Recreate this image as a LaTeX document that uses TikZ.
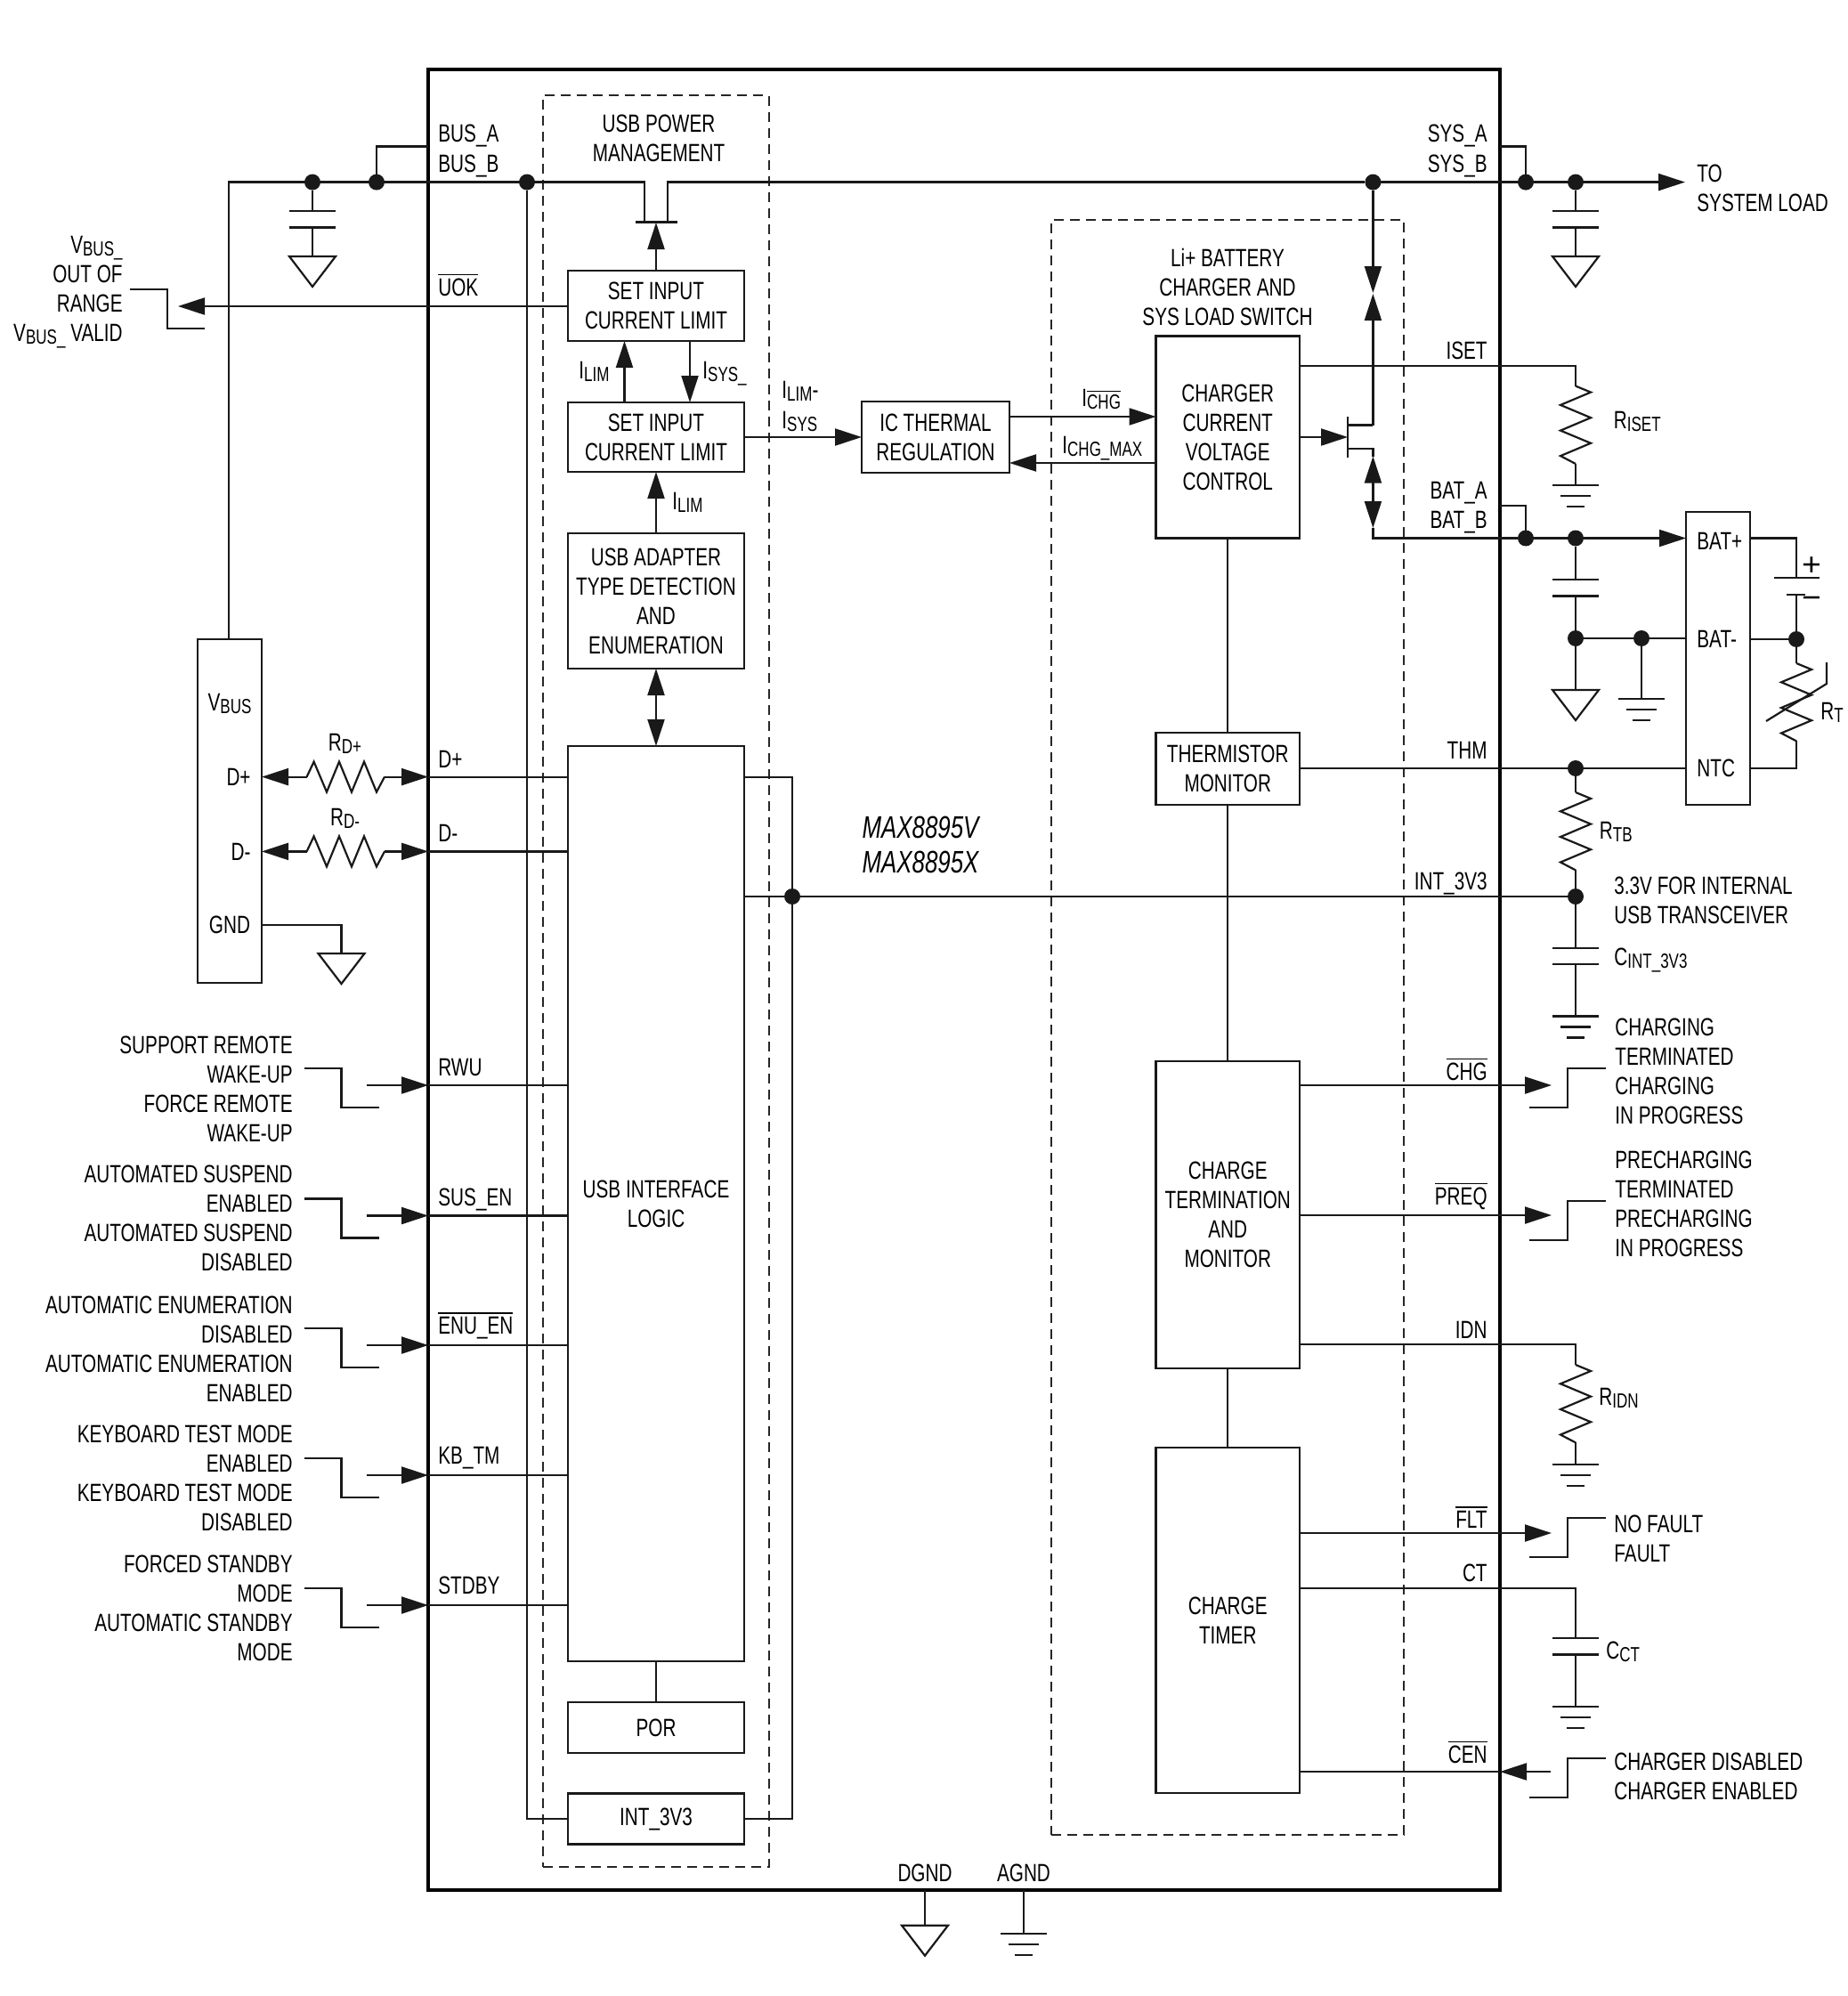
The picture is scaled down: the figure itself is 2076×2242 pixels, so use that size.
\documentclass[tikz,border=0pt]{standalone}
\usepackage{fontspec}
\setmainfont[FakeStretch=0.74]{Liberation Sans}
\usetikzlibrary{arrows.meta}
\newcommand\sbs[1]{\raisebox{-1.6pt}{\fontsize{11.5}{12}\selectfont #1}}
\newcommand\ovl[1]{\leavevmode\vbox{\hrule height .6pt \kern 1.6pt \hbox{#1}}}
\tikzset{
  wire/.style={line width=1.1pt,draw=black!90,line join=miter},
  arr/.style={wire,-{Triangle[length=15pt,width=9.5pt]}},
  boxn/.style={draw=black!90,line width=1.2pt,inner sep=0pt,outer sep=0pt,align=center,font=\fontsize{14}{16.5}\selectfont},
  dashbox/.style={draw=black!85,line width=1pt,dash pattern=on 5.5pt off 3.5pt,inner sep=0pt,outer sep=0pt},
  dot/.style={circle,fill=black!90,inner sep=0pt,outer sep=0pt,minimum size=9pt},
  lblL/.style={anchor=base west,inner sep=0pt,font=\fontsize{14}{16.5}\selectfont},
  lblR/.style={anchor=base east,inner sep=0pt,font=\fontsize{14}{16.5}\selectfont},
  lblC/.style={anchor=base,inner sep=0pt,font=\fontsize{14}{16.5}\selectfont},
  multiR/.style={anchor=east,align=right,inner sep=0pt,font=\fontsize{14}{16.5}\selectfont},
  multiL/.style={anchor=west,align=left,inner sep=0pt,font=\fontsize{14}{16.5}\selectfont},
  multiC/.style={anchor=center,align=center,inner sep=0pt,font=\fontsize{14}{16.5}\selectfont},
  signn/.style={anchor=center,inner sep=0pt,font=\fontsize{18}{18}\selectfont},
  gndtri/.pic={\draw[wire] (-26,0)--(26,0)--(0,34)--cycle;},
  gndbars/.pic={\draw[wire] (-26,0)--(26,0) (-17,12)--(17,12) (-10,24)--(10,24);},
  capv/.pic={\draw[wire] (-26,0)--(26,0) (-26,18.5)--(26,18.5);},
  resv/.pic={\draw[wire] (0,0)--(17,7)--(-17,21.3)--(17,35.6)--(-17,50)--(17,64.2)--(-17,78.5)--(0,87.4);},
  resh/.pic={\draw[wire] (0,0)--(8,-17)--(22.4,17)--(36.4,-17)--(50.4,17)--(64.4,-17)--(78.4,17)--(87.4,0);},
  stepin/.pic={\draw[wire] (-42,-19)--(0,-19)--(0,25)--(42,25);},
  stepout/.pic={\draw[wire] (43,-19)--(0,-19)--(0,25)--(-43,25);}
}
\begin{document}
\begin{tikzpicture}[x=0.5pt,y=-0.5pt]
\useasboundingbox (0,0) rectangle (2076,2242);
% frames
\node[draw=black,line width=2.4pt,inner sep=0pt,outer sep=0pt,minimum width=602pt,minimum height=1022.5pt] (chip) at (1083,1100.5) {};
\node[dashbox,minimum width=127pt,minimum height=994.6pt] (usbpm) at (737,1102) {};
\node[dashbox,minimum width=198pt,minimum height=906.85pt] (chgsec) at (1379,1153.85) {};
% blocks
\node[boxn,minimum width=99pt,minimum height=39.5pt] (sil1) at (737,343.5) {SET INPUT\\CURRENT LIMIT};
\node[boxn,minimum width=99pt,minimum height=39pt] (sil2) at (737,491) {SET INPUT\\CURRENT LIMIT};
\node[boxn,minimum width=99pt,minimum height=76pt] (adapter) at (737,675) {USB ADAPTER\\TYPE DETECTION\\AND\\ENUMERATION};
\node[boxn,minimum width=99pt,minimum height=514pt] (logic) at (737,1352) {USB INTERFACE\\LOGIC};
\node[boxn,minimum width=99pt,minimum height=28.5pt] (por) at (737,1940.5) {POR};
\node[boxn,minimum width=99pt,minimum height=28.5pt] (int) at (737,2043) {INT\_3V3};
\node[boxn,minimum width=83pt,minimum height=39.75pt] (therm) at (1051,491) {IC THERMAL\\REGULATION};
\node[boxn,minimum width=80.75pt,minimum height=113.5pt] (ctrl) at (1379.25,491) {CHARGER\\CURRENT\\VOLTAGE\\CONTROL};
\node[boxn,minimum width=80.75pt,minimum height=40.5pt] (thmon) at (1379.25,863.5) {THERMISTOR\\MONITOR};
\node[boxn,minimum width=80.75pt,minimum height=172.5pt] (term) at (1379.25,1364.5) {CHARGE\\TERMINATION\\AND\\MONITOR};
\node[boxn,minimum width=80.75pt,minimum height=194pt] (timer) at (1379.25,1820) {CHARGE\\TIMER};
\node[boxn,minimum width=36pt,minimum height=193pt] (usbcon) at (258,911) {};
\node[boxn,minimum width=36pt,minimum height=164.5pt] (batpack) at (1930,739.5) {};
% dots
\node[dot] (d1) at (351,204.6) {};
\node[dot] (d2) at (423,204.6) {};
\node[dot] (d3) at (592,204.6) {};
\node[dot] (d4) at (1542.4,204.6) {};
\node[dot] (d5) at (1714,204.6) {};
\node[dot] (d6) at (1770,204.6) {};
\node[dot] (d7) at (1714,604.5) {};
\node[dot] (d8) at (1770,604.5) {};
\node[dot] (d9) at (1770,717) {};
\node[dot] (d10) at (1844,717) {};
\node[dot] (d11) at (2018,718) {};
\node[dot] (d12) at (1770,863) {};
\node[dot] (d13) at (1770,1007) {};
\node[dot] (d14) at (890,1007) {};
% coordinates
\coordinate (sysout) at (1893,204.6);
\coordinate (batout) at (batpack.west |- d8);
\coordinate (g1) at (737,250);
% power bus
\draw[wire] (usbcon.north -| 257,0) -- (257,204.6) -- (724,204.6) -- (724,250);
\draw[wire] (750,250) -- (750,204.6) -- (d4);
\draw[arr] (d4) -- (sysout);
\draw[wire,line width=1.5pt] (714,250) -- (761,250);
\draw[arr] (sil1.north) -- (g1);
\draw[wire] (d2) -- (423,164.6) -- (chip.west |- 0,164.6);
\draw[wire] (d5) -- (1714,164.6) -- (chip.east |- 0,164.6);
\draw[wire] (d3) -- (592,2043) -- (int.west);
\draw[wire] (int.east) -- (890,2043) -- (890,872.6) -- (logic.east |- 0,872.6);
\draw[wire] (logic.east |- d14) -- (d14) -- (d13);
% caps and grounds on the bus
\draw[wire] (d1) -- (351,237) (351,255.5) -- (351,288);
\pic at (351,237) {capv};
\pic at (351,288) {gndtri};
\draw[wire] (d6) -- (1770,237) (1770,255.5) -- (1770,288);
\pic at (1770,237) {capv};
\pic at (1770,288) {gndtri};
% UOK
\draw[arr] (sil1.west |- 0,344) -- (200,344);
\pic at (188,344) {stepin};
% internal power arrows
\draw[arr] (sil2.north -| 701.5,0) -- (sil1.south -| 701.5,0);
\draw[arr] (sil1.south -| 775,0) -- (sil2.north -| 775,0);
\draw[arr] (adapter.north) -- (sil2.south);
\draw[arr] (sil2.east) -- (therm.west);
\draw[wire,{Triangle[length=15pt,width=9.5pt]}-{Triangle[length=15pt,width=9.5pt]}] (adapter.south) -- (logic.north);
\draw[wire] (logic.south) -- (por.north);
% thermal / charger
\draw[arr] (therm.east |- 0,468) -- (ctrl.west |- 0,468);
\draw[arr] (ctrl.west |- 0,520) -- (therm.east |- 0,520);
\draw[arr] (ctrl.east) -- (1514,491);
\draw[wire,line width=1.4pt] (1514,468) -- (1514,514);
\draw[arr] (d4) -- (1542.4,329);
\draw[arr] (1542.4,477.5) -- (1542.4,330);
\draw[wire] (1514,477.5) -- (1542.4,477.5);
\draw[wire] (1514,504) -- (1542.4,504) -- (1542.4,513);
\draw[arr] (1542.4,553) -- (1542.4,512.5);
\draw[arr] (1542.4,553) -- (1542.4,593);
\draw[wire] (1542.4,593) -- (1542.4,604.5) -- (d7);
\draw[arr] (d7) -- (batout);
\draw[wire] (d7) -- (1714,568) -- (chip.east |- 0,568);
% central spine
\draw[wire] (ctrl.south) -- (thmon.north);
\draw[wire] (thmon.south) -- (term.north);
\draw[wire] (term.south) -- (timer.north);
% ISET
\draw[wire] (ctrl.east |- 0,411) -- (1770,411) -- (1770,433.6);
\pic at (1770,433.6) {resv};
\draw[wire] (1770,521) -- (1770,545);
\pic at (1770,545) {gndbars};
% battery side
\draw[wire] (d8) -- (1770,651) (1770,669.5) -- (d9) -- (1770,775);
\pic at (1770,651) {capv};
\pic at (1770,775) {gndtri};
\draw[wire] (d9) -- (batpack.west |- d9);
\draw[wire] (d10) -- (1844,785);
\pic at (1844,785) {gndbars};
\draw[wire] (batpack.east |- d8) -- (2018,604.5) -- (2018,649);
\draw[wire] (1993,649) -- (2044,649) (2007,668) -- (2028,668);
\draw[wire] (2018,668) -- (d11) -- (2018,745);
\draw[wire] (batpack.east |- d11) -- (d11);
\pic at (2018,745) {resv};
\draw[wire] (2018,832.4) -- (2018,863) -- (batpack.east |- d12);
\draw[wire] (1984,810) -- (2052,768) -- (2052,744);
% THM
\draw[wire] (thmon.east |- d12) -- (batpack.west |- d12);
\draw[wire] (d12) -- (1770,890);
\pic at (1770,890) {resv};
\draw[wire] (1770,977.4) -- (d13);
% INT_3V3 cap
\draw[wire] (d13) -- (1770,1064.6) (1770,1083) -- (1770,1141.4);
\pic at (1770,1064.6) {capv};
\pic at (1770,1141.4) {gndbars};
% status outputs
\draw[arr] (term.east |- 0,1219) -- (1743,1219);
\pic at (1761,1219) {stepout};
\draw[arr] (term.east |- 0,1365) -- (1743,1365);
\pic at (1761,1368) {stepout};
\draw[wire] (term.east |- 0,1510) -- (1770,1510) -- (1770,1533);
\pic at (1770,1533) {resv};
\draw[wire] (1770,1620.4) -- (1770,1645);
\pic at (1770,1645) {gndbars};
\draw[arr] (timer.east |- 0,1722) -- (1743,1722);
\pic at (1761,1724) {stepout};
\draw[wire] (timer.east |- 0,1784) -- (1770,1784) -- (1770,1840) (1770,1858.5) -- (1770,1917);
\pic at (1770,1840) {capv};
\pic at (1770,1917) {gndbars};
\draw[wire] (timer.east |- 0,1990) -- (chip.east |- 0,1990);
\draw[arr] (1742,1990) -- (chip.east |- 0,1990);
\pic at (1761,1994) {stepout};
% USB lines
\draw[wire,arrows={Triangle[length=15pt,width=9.5pt]-}] (usbcon.east |- 0,872.6) -- (344.6,872.6);
\pic at (344.6,872.6) {resh};
\draw[arr] (432,872.6) -- (chip.west |- 0,872.6);
\draw[wire] (chip.west |- 0,872.6) -- (logic.west |- 0,872.6);
\draw[wire,arrows={Triangle[length=15pt,width=9.5pt]-}] (usbcon.east |- 0,956.4) -- (344.6,956.4);
\pic at (344.6,956.4) {resh};
\draw[arr] (432,956.4) -- (chip.west |- 0,956.4);
\draw[wire] (chip.west |- 0,956.4) -- (logic.west |- 0,956.4);
\draw[wire] (usbcon.east |- 0,1038.7) -- (383.5,1038.7) -- (383.5,1071);
\pic at (383.5,1071) {gndtri};
% control inputs
\foreach \yy in {1219,1365.5,1511,1657,1803}{
  \draw[arr] (411.6,\yy) -- (chip.west |- 0,\yy);
  \draw[wire] (chip.west |- 0,\yy) -- (logic.west |- 0,\yy);
  \pic at (383.5,\yy) {stepin};
}
% ground pins
\draw[wire] (chip.south -| 1039,0) -- (1039,2162.7);
\pic at (1039,2162.7) {gndtri};
\draw[wire] (chip.south -| 1150,0) -- (1150,2172);
\pic at (1150,2172) {gndbars};
% labels in blocks / sections
\node[multiC] (tUSBPM) at (740,155) {USB POWER\\MANAGEMENT};
\node[multiC] (tLi) at (1379,322) {Li+ BATTERY\\CHARGER AND\\SYS LOAD SWITCH};
\node[anchor=center,align=left,inner sep=0pt,font=\fontsize{17.5}{19.5}\selectfont\itshape] (tMAX) at (1034,949) {MAX8895V\\MAX8895X};
% left pin labels
\node[lblL] (pBA) at (492,160) {BUS\_A};
\node[lblL] (pBB) at (492,194) {BUS\_B};
\node[lblL] (pUOK) at (492,332) {\ovl{UOK}};
\node[lblL] (pDP) at (492,862) {D+};
\node[lblL] (pDM) at (492,945) {D-};
\node[lblL] (pRWU) at (492,1208) {RWU};
\node[lblL] (pSUS) at (492,1354) {SUS\_EN};
\node[lblL] (pENU) at (492,1498) {\ovl{ENU\_EN}};
\node[lblL] (pKB) at (492,1644) {KB\_TM};
\node[lblL] (pSTD) at (492,1790) {STDBY};
% right pin labels
\node[lblR] (pSA) at (1671,160) {SYS\_A};
\node[lblR] (pSB) at (1671,194) {SYS\_B};
\node[lblR] (pISET) at (1671,403) {ISET};
\node[lblR] (pBTA) at (1671,560) {BAT\_A};
\node[lblR] (pBTB) at (1671,593) {BAT\_B};
\node[lblR] (pTHM) at (1671,852) {THM};
\node[lblR] (pINT) at (1671,999) {INT\_3V3};
\node[lblR] (pCHG) at (1671,1213) {\ovl{CHG}};
\node[lblR] (pPREQ) at (1671,1353) {\ovl{PREQ}};
\node[lblR] (pIDN) at (1671,1503) {IDN};
\node[lblR] (pFLT) at (1671,1716) {\ovl{FLT}};
\node[lblR] (pCT) at (1671,1776) {CT};
\node[lblR] (pCEN) at (1671,1980) {\ovl{CEN}};
\node[lblC] (pDG) at (1039,2113) {DGND};
\node[lblC] (pAG) at (1150,2113) {AGND};
% current labels
\node[lblL] (iL1) at (650,425) {I\sbs{LIM}};
\node[lblL] (iS) at (789,425) {I\sbs{SYS\_}};
\node[lblL] (iL2) at (755,572) {I\sbs{LIM}};
\node[lblL] (iLa) at (878,447) {I\sbs{LIM}-};
\node[lblL] (iLb) at (878,481) {I\sbs{SYS}};
\node[lblL] (iC) at (1215,456) {I\sbs{\ovl{CHG}}};
\node[lblL] (iCM) at (1193,509) {I\sbs{CHG\_MAX}};
% external labels, left
\node[multiR] (eV) at (138,328) {V\sbs{BUS\_}\\OUT OF\\RANGE\\V\sbs{BUS\_} VALID};
\node[lblC] (eVB) at (258,798) {V\sbs{BUS}};
\node[lblR] (eDP) at (282,882) {D+};
\node[lblR] (eDM) at (282,966) {D-};
\node[lblC] (eG) at (258,1048) {GND};
\node[lblC] (eRP) at (387.5,843) {R\sbs{D+}};
\node[lblC] (eRM) at (387.5,927) {R\sbs{D-}};
\node[multiR] (e1) at (329,1223) {SUPPORT REMOTE\\WAKE-UP\\FORCE REMOTE\\WAKE-UP};
\node[multiR] (e2) at (329,1368) {AUTOMATED SUSPEND\\ENABLED\\AUTOMATED SUSPEND\\DISABLED};
\node[multiR] (e3) at (329,1515) {AUTOMATIC ENUMERATION\\DISABLED\\AUTOMATIC ENUMERATION\\ENABLED};
\node[multiR] (e4) at (329,1660) {KEYBOARD TEST MODE\\ENABLED\\KEYBOARD TEST MODE\\DISABLED};
\node[multiR] (e5) at (329,1806) {FORCED STANDBY\\MODE\\AUTOMATIC STANDBY\\MODE};
% external labels, right
\node[multiL] (eTO) at (1906,211) {TO\\SYSTEM LOAD};
\node[lblL] (eRI) at (1812.5,481) {R\sbs{ISET}};
\node[lblL] (eB1) at (1906,617) {BAT+};
\node[lblL] (eB2) at (1906,727) {BAT-};
\node[lblL] (eB3) at (1906,872) {NTC};
\node[signn] (ePl) at (2035,636) {\scalebox{1.4}[1]{+}};
\node[signn] (eMi) at (2035,677) {\scalebox{1.4}[1]{−}};
\node[lblL] (eRT) at (2045,808) {R\sbs{T}};
\node[lblL] (eRTB) at (1796.5,942) {R\sbs{TB}};
\node[multiL] (e33) at (1813,1011) {3.3V FOR INTERNAL\\USB TRANSCEIVER};
\node[lblL] (eCI) at (1813,1084) {C\sbs{INT\_3V3}};
\node[multiL] (eC1) at (1814,1203) {CHARGING\\TERMINATED\\CHARGING\\IN PROGRESS};
\node[multiL] (eC2) at (1814,1352) {PRECHARGING\\TERMINATED\\PRECHARGING\\IN PROGRESS};
\node[lblL] (eRD) at (1796,1578) {R\sbs{IDN}};
\node[multiL] (eF) at (1813,1728) {NO FAULT\\FAULT};
\node[lblL] (eCC) at (1804,1863) {C\sbs{CT}};
\node[multiL] (eCE) at (1813,1995) {CHARGER DISABLED\\CHARGER ENABLED};
\end{tikzpicture}
\end{document}
